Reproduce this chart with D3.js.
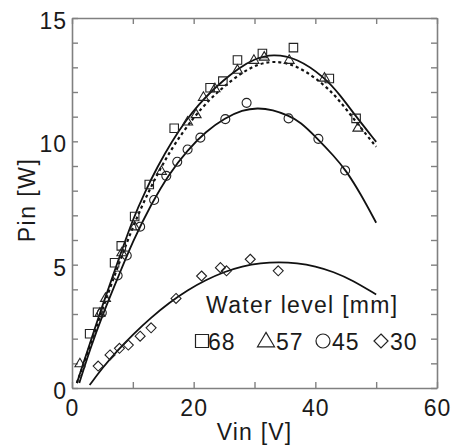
<!DOCTYPE html>
<html><head><meta charset="utf-8">
<script src="https://cdn.jsdelivr.net/npm/d3@7"></script>
<style>body{margin:0;background:#fff}svg{display:block}text{font-family:"Liberation Sans",Arial,sans-serif;fill:#1a1a1a}</style>
</head><body><svg id="c" width="460" height="447"></svg>
<script>
// ---- data ----
const xTicks = [0,10,20,30,40,50,60];
const xTickLabels = ["0","","20","","40","","60"];
const yTicks = [0,1,2,3,4,5,6,7,8,9,10,11,12,13,14,15];
const yTickLabels = {0:"0",5:"5",10:"10",15:"15"};
const seriesNames = ["68","57","45","30"];
const symbolKinds = ["square","triangle","circle","diamond"];

const pts68 = [[2.9,2.2],[4.2,3.07],[7.0,5.08],[8.1,5.76],[10.3,6.95],[12.7,8.25],[16.8,10.53],[22.7,12.17],[24.8,12.44],[27.2,13.3],[31.3,13.56],[36.4,13.8],[42.3,12.55],[46.7,10.93]];
const pts57 = [[1.3,1.0],[4.6,3.05],[5.5,3.65],[8.2,5.5],[10.3,6.55],[14.7,8.8],[19.0,10.8],[20.4,11.1],[21.6,11.8],[23.5,12.15],[27.2,12.9],[29.9,13.3],[31.6,13.43],[35.7,13.3],[41.5,12.58],[47.0,10.55]];
const pts45 = [[4.9,3.05],[7.5,4.56],[9.0,5.37],[11.2,6.54],[13.5,7.62],[15.5,8.6],[17.3,9.17],[19.0,9.67],[21.1,10.15],[25.2,10.9],[28.7,11.56],[35.6,10.93],[40.5,10.1],[44.9,8.82]];
const pts30 = [[4.3,0.89],[6.25,1.34],[7.8,1.61],[9.26,1.74],[11.2,2.1],[13.0,2.44],[17.1,3.63],[21.3,4.54],[24.4,4.88],[25.4,4.75],[29.3,5.22],[33.9,4.75]];

const fit68 = [[0.8,0.2],[3,1.85],[5,3.35],[7.5,5.1],[10,6.85],[12,7.95],[14,8.95],[16.4,10.0],[18.9,10.9],[20.7,11.45],[22.7,11.98],[24.8,12.45],[27.3,12.95],[30,13.35],[33,13.55],[37,13.38],[41.5,12.6],[44,11.9],[46.8,10.97],[50,9.98]];
const fit57 = [[0.8,0.2],[3,1.75],[5,3.2],[7.5,4.9],[10,6.55],[13,8.2],[16.4,9.75],[20,10.98],[22.7,11.72],[24.8,12.18],[27.3,12.68],[30,13.08],[33,13.28],[37,13.1],[41.5,12.3],[44,11.65],[46.8,10.75],[50,9.78]];
const fit45 = [[1.2,0.2],[3,1.6],[5,2.95],[7.5,4.45],[10,5.95],[13,7.45],[16,8.7],[19,9.65],[22,10.4],[25.2,10.95],[28,11.27],[30.5,11.36],[33,11.28],[35.6,11.04],[37.5,10.8],[40.4,10.1],[43,9.42],[45,8.84],[47.5,7.85],[50,6.7]];
const fit30 = [[2.9,0.12],[5,0.82],[7.5,1.53],[10,2.17],[13,2.86],[16,3.46],[19,3.97],[22,4.38],[25,4.71],[28,4.94],[31,5.07],[34,5.11],[37,5.07],[40,4.94],[43,4.71],[46,4.38],[50,3.79]];

const pointSets = [pts68, pts57, pts45, pts30];
const fitSets = [fit68, fit57, fit45, fit30];
const fitDashed = [false, true, false, false];

// ---- layout ----
const svg = d3.select("#c");
const X0=72, X1=437, Y0=388, Y1=18;
const x = d3.scaleLinear().domain([0,60]).range([X0,X1]);
const y = d3.scaleLinear().domain([0,15]).range([Y0,Y1]);
const axisColor = "#808080";
const fs = 23;

function styleAxis(g){
  g.selectAll(".domain").attr("stroke",axisColor).attr("stroke-width",1.6);
  g.selectAll(".tick line").attr("stroke",axisColor).attr("stroke-width",1.4);
  g.selectAll(".tick text").attr("font-size",fs).attr("fill","#1a1a1a")
   .attr("font-family","'Liberation Sans',Arial,sans-serif").style("letter-spacing","1px");
}
const gb = svg.append("g").attr("transform",`translate(0,${Y0})`)
  .call(d3.axisBottom(x).tickValues(xTicks).tickSizeInner(-6).tickSizeOuter(0).tickPadding(12)
  .tickFormat((d,i)=>xTickLabels[i]));
styleAxis(gb);
const gt = svg.append("g").attr("transform",`translate(0,${Y1})`)
  .call(d3.axisTop(x).tickValues(xTicks).tickSizeInner(-6).tickSizeOuter(0).tickFormat(""));
styleAxis(gt);
const gl = svg.append("g").attr("transform",`translate(${X0},0)`)
  .call(d3.axisLeft(y).tickValues(yTicks).tickSizeInner(-6).tickSizeOuter(0).tickPadding(5)
  .tickFormat(d=>yTickLabels[d]||""));
styleAxis(gl);
gl.selectAll(".tick text").attr("dy","0.45em");
const gr = svg.append("g").attr("transform",`translate(${X1},0)`)
  .call(d3.axisRight(y).tickValues(yTicks).tickSizeInner(-6).tickSizeOuter(0).tickFormat(""));
styleAxis(gr);

// ---- fit curves ----
const line = d3.line().x(d=>x(d[0])).y(d=>y(d[1])).curve(d3.curveBasis);
fitSets.forEach((f,i)=>{
  svg.append("path").datum(f).attr("d",line).attr("fill","none")
    .attr("stroke","#111").attr("stroke-width",fitDashed[i]?2.2:1.8)
    .attr("stroke-dasharray",fitDashed[i]?"3,3":null);
});

// ---- markers ----
function symPath(kind, size){
  if(kind==="square") return d3.symbol(d3.symbolSquare, size*size)();
  if(kind==="circle") return d3.symbol(d3.symbolCircle, Math.PI*(size/2)*(size/2))();
  if(kind==="triangle"){ const s=size, h=s*0.85; return `M0,${-h*0.6}L${s/2},${h*0.4}L${-s/2},${h*0.4}Z`; }
  if(kind==="diamond"){ const r=size/2; return `M0,${-r}L${r},0L0,${r}L${-r},0Z`; }
}
const plotSizes = {square:8.5, triangle:10, circle:9, diamond:10};
pointSets.forEach((p,i)=>{
  const k = symbolKinds[i];
  svg.append("g").selectAll("path").data(p).join("path")
    .attr("transform",d=>`translate(${x(d[0])},${y(d[1])})`)
    .attr("d",symPath(k,plotSizes[k]))
    .attr("fill","none").attr("stroke","#222").attr("stroke-width",1.1);
});

// ---- legend ----
svg.append("text").attr("x",206).attr("y",313).attr("font-size",fs)
  .style("letter-spacing","1.3px").text("Water level [mm]");
const legSym = [{cx:202,w:13},{cx:266,w:17},{cx:323,w:14},{cx:381,w:14}];
const legTextX = [208,276,332,390];
seriesNames.forEach((n,i)=>{
  const k=symbolKinds[i];
  svg.append("path").attr("transform",`translate(${legSym[i].cx},${341})`)
    .attr("d",symPath(k,legSym[i].w)).attr("fill","none").attr("stroke","#222").attr("stroke-width",1.2);
  svg.append("text").attr("x",legTextX[i]).attr("y",350).attr("font-size",fs)
    .style("letter-spacing","1px").text(n);
});

// ---- axis titles ----
svg.append("text").attr("x",(X0+X1)/2).attr("y",440).attr("text-anchor","middle")
  .attr("font-size",fs).style("letter-spacing","1.2px").text("Vin [V]");
svg.append("text").attr("transform",`translate(35,${(Y0+Y1)/2-3}) rotate(-90)`).attr("text-anchor","middle")
  .attr("font-size",fs).style("letter-spacing","1.5px").text("Pin [W]");
</script></body></html>
